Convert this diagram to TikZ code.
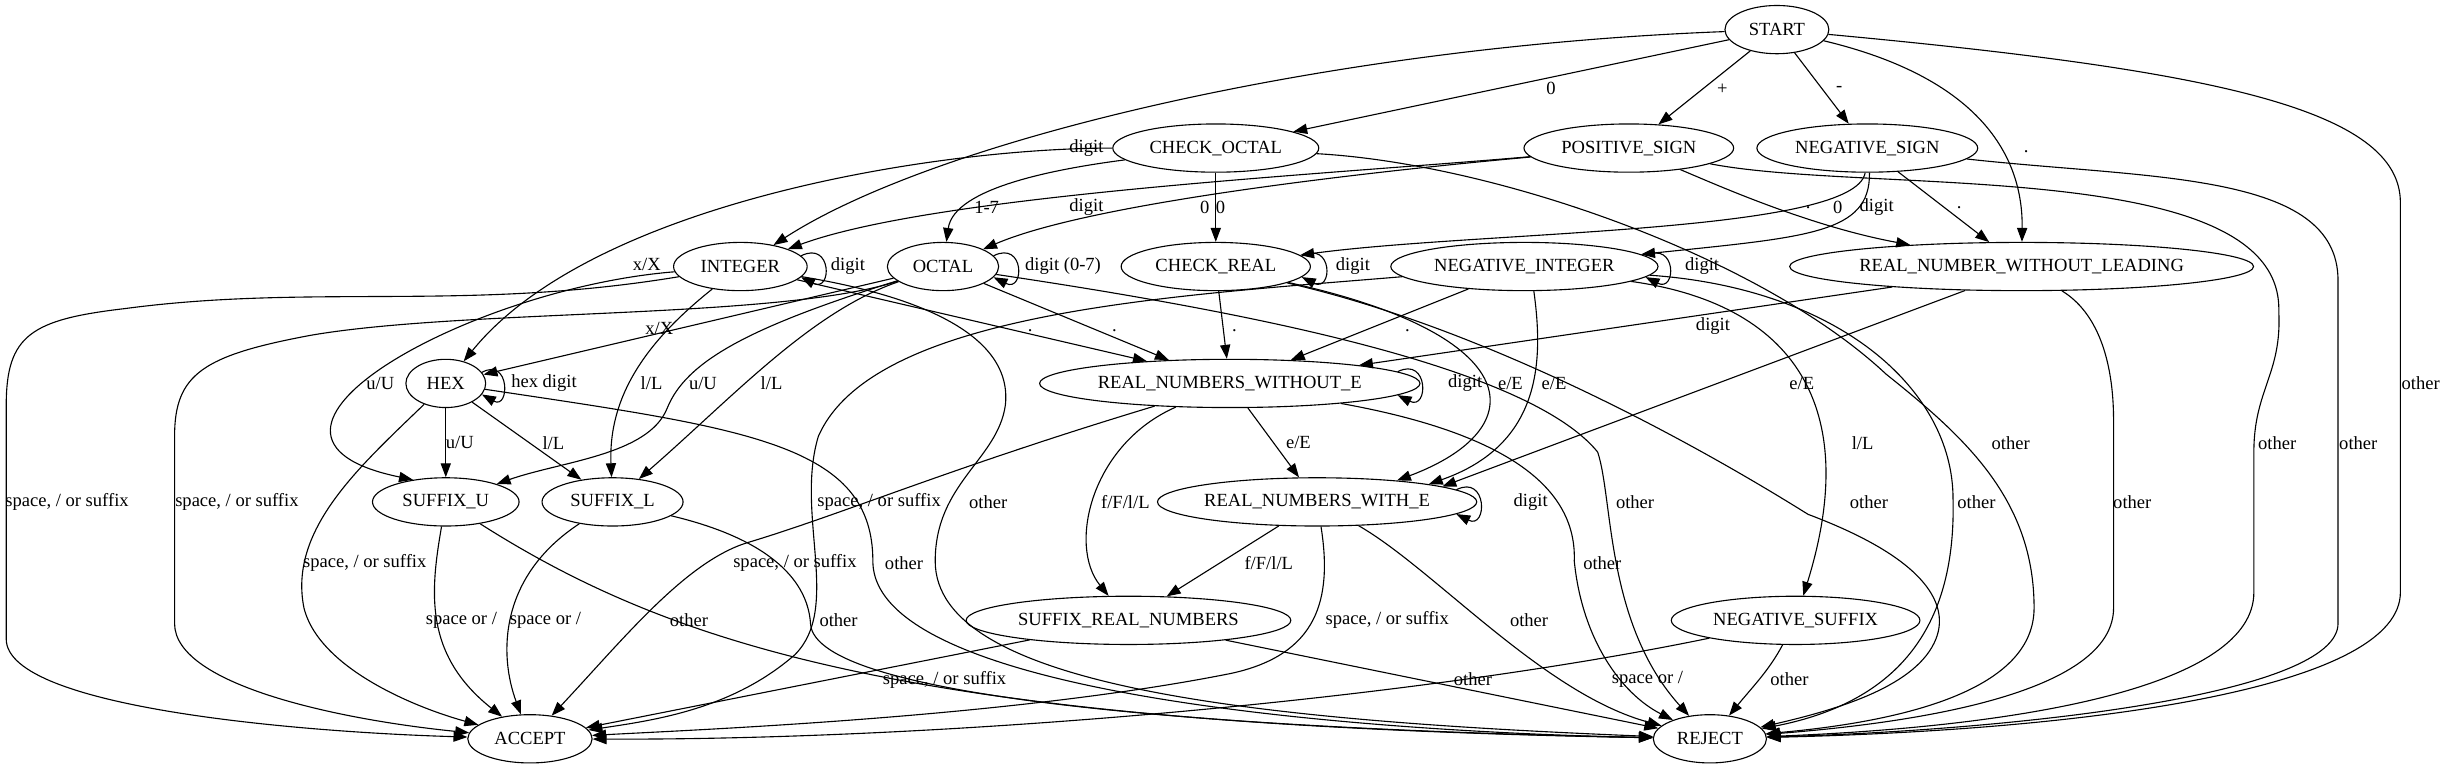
\documentclass[tikz,border=0pt]{standalone}
\usepackage{fontspec}
\setmainfont{Liberation Serif}
\usetikzlibrary{arrows.meta,shapes.geometric}

\begin{document}
\begin{tikzpicture}[x=0.84pt,y=-0.84pt]
  \tikzstyle{state}=[draw,ellipse,inner sep=0pt,minimum height=26pt,line width=0.6pt]
  \tikzstyle{edge}=[-{Triangle[length=7.5pt,width=5.5pt]},line width=0.6pt]
  \tikzstyle{lbl}=[inner sep=0pt]
  \useasboundingbox (0,0) rectangle (1568,492);
  % States, rank by rank
  \node[state,minimum width=56pt] (start) at (1140,19) {START};
  \node[state,minimum width=111pt] (chkoct) at (780,95) {CHECK\_OCTAL};
  \node[state,minimum width=113pt] (possign) at (1045,95) {POSITIVE\_SIGN};
  \node[state,minimum width=119pt] (negsign) at (1198,95) {NEGATIVE\_SIGN};
  \node[state,minimum width=72pt] (integer) at (475,171) {INTEGER};
  \node[state,minimum width=60pt] (octal) at (605,171) {OCTAL};
  \node[state,minimum width=102pt] (chkreal) at (780,171) {CHECK\_REAL};
  \node[state,minimum width=144pt] (negint) at (978,171) {NEGATIVE\_INTEGER};
  \node[state,minimum width=250pt] (rnwl) at (1297,171) {REAL\_NUMBER\_WITHOUT\_LEADING};
  \node[state,minimum width=43pt] (hex) at (286,246) {HEX};
  \node[state,minimum width=205pt] (rnwoe) at (789,246) {REAL\_NUMBERS\_WITHOUT\_E};
  \node[state,minimum width=79pt] (sufu) at (286,322) {SUFFIX\_U};
  \node[state,minimum width=76pt] (sufl) at (393,322) {SUFFIX\_L};
  \node[state,minimum width=171pt] (rnwe) at (845,322) {REAL\_NUMBERS\_WITH\_E};
  \node[state,minimum width=175pt] (sufreal) at (724,398) {SUFFIX\_REAL\_NUMBERS};
  \node[state,minimum width=134pt] (negsuf) at (1152,398) {NEGATIVE\_SUFFIX};
  \node[state,minimum width=67pt] (accept) at (340,474) {ACCEPT};
  \node[state,minimum width=61pt] (reject) at (1097,474) {REJECT};
  % START
  \draw[edge] (start) -- (chkoct) node[lbl,at={(995,57)}] {0};
  \draw[edge] (start) -- (possign) node[lbl,at={(1105,57)}] {+};
  \draw[edge] (start) -- (negsign) node[lbl,at={(1180,57)}] {-};
  \draw[edge] (start) .. controls (850,30) and (600,90) .. (integer) node[lbl,at={(697,95)}] {digit};
  \draw[edge] (start) .. controls (1270,50) and (1298,100) .. (rnwl) node[lbl,at={(1300,97)}] {.};
  \draw[edge] (start) .. controls (1420,45) and (1540,70) .. (1540,130) -- (1540,380)
    .. controls (1540,440) and (1350,468) .. (reject) node[lbl,at={(1553,246)}] {other};
  % CHECK_OCTAL
  \draw[edge] (chkoct) .. controls (600,95) and (380,130) .. (hex) node[lbl,at={(415,170)}] {x/X};
  \draw[edge] (chkoct) .. controls (680,108) and (612,120) .. (octal) node[lbl,at={(633,133)}] {1-7};
  \draw[edge] (chkoct) -- (chkreal) node[lbl,at={(783,133)}] {0};
  \draw[edge] (chkoct) .. controls (960,105) and (1130,165) .. (1210,240)
    .. controls (1260,280) and (1305,320) .. (1305,390)
    .. controls (1305,440) and (1230,462) .. (reject) node[lbl,at={(1290,284)}] {other};
  % POSITIVE_SIGN
  \draw[edge] (possign) .. controls (850,112) and (600,125) .. (integer) node[lbl,at={(697,133)}] {digit};
  \draw[edge] (possign) .. controls (880,110) and (700,130) .. (octal) node[lbl,at={(773,133)}] {0};
  \draw[edge] (possign) .. controls (1100,118) and (1160,145) .. (rnwl.169) node[lbl,at={(1160,133)}] {.};
  \draw[edge] (possign) .. controls (1200,125) and (1465,100) .. (1462,200)
    .. controls (1464,240) and (1446,250) .. (1446,290) -- (1446,380)
    .. controls (1446,440) and (1300,466) .. (reject) node[lbl,at={(1461,284)}] {other};
  % NEGATIVE_SIGN
  \draw[edge] (negsign.-95) .. controls (1190,150) and (950,148) .. (chkreal) node[lbl,at={(1179,133)}] {0};
  \draw[edge] (negsign.-85) .. controls (1200,150) and (1160,152) .. (negint) node[lbl,at={(1204,133)}] {digit};
  \draw[edge] (negsign) -- (rnwl.143) node[lbl,at={(1257,133)}] {.};
  \draw[edge] (negsign) .. controls (1380,115) and (1500,110) .. (1500,180) -- (1500,400)
    .. controls (1500,445) and (1300,468) .. (reject) node[lbl,at={(1513,284)}] {other};
  % INTEGER
  \draw[edge] (integer.10) .. controls +(20,-10) and +(20,10) .. (integer.-10) node[lbl,at={(544,171)}] {digit};
  \draw[edge] (integer) .. controls (300,185) and (130,280) .. (sufu.146) node[lbl,at={(244,246)}] {u/U};
  \draw[edge] (integer) .. controls (420,215) and (390,250) .. (sufl) node[lbl,at={(418,246)}] {l/L};
  \draw[edge] (integer) -- (rnwoe.165) node[lbl,at={(661,212)}] {.};
  \draw[edge] (integer) .. controls (300,200) and (200,182) .. (80,198)
    .. controls (20,205) and (4,215) .. (4,260) -- (4,410)
    .. controls (4,455) and (200,470) .. (accept) node[lbl,at={(43,322)}] {space, / or suffix};
  \draw[edge] (integer) .. controls (590,190) and (650,215) .. (645,260)
    .. controls (640,295) and (600,310) .. (600,360)
    .. controls (600,440) and (800,462) .. (reject) node[lbl,at={(634,322)}] {other};
  % OCTAL
  \draw[edge] (octal.12) .. controls +(20,-10) and +(20,10) .. (octal.-12) node[lbl,at={(682,171)}] {digit (0-7)};
  \draw[edge] (octal) -- (hex) node[lbl,at={(423,211)}] {x/X};
  \draw[edge] (octal) .. controls (480,210) and (440,232) .. (428,262)
    .. controls (416,292) and (360,296) .. (sufu) node[lbl,at={(451,246)}] {u/U};
  \draw[edge] (octal) .. controls (520,200) and (470,255) .. (sufl) node[lbl,at={(495,246)}] {l/L};
  \draw[edge] (octal) -- (rnwoe.159) node[lbl,at={(715,212)}] {.};
  \draw[edge] (octal) .. controls (500,205) and (300,198) .. (200,215)
    .. controls (130,228) and (112,240) .. (112,280) -- (112,400)
    .. controls (112,440) and (220,462) .. (accept) node[lbl,at={(152,322)}] {space, / or suffix};
  \draw[edge] (octal) .. controls (800,200) and (980,235) .. (1025,290)
    .. controls (1035,320) and (1030,400) .. (reject) node[lbl,at={(1049,322)}] {other};
  % CHECK_REAL
  \draw[edge] (chkreal.7) .. controls +(20,-10) and +(20,10) .. (chkreal.-7) node[lbl,at={(868,171)}] {digit};
  \draw[edge] (chkreal) -- (rnwoe) node[lbl,at={(792,212)}] {.};
  \draw[edge] (chkreal) .. controls (980,215) and (985,275) .. (rnwe.15) node[lbl,at={(969,246)}] {e/E};
  \draw[edge] (chkreal) .. controls (950,210) and (1080,280) .. (1160,330)
    .. controls (1240,360) and (1250,390) .. (1242,410)
    .. controls (1230,440) and (1180,455) .. (reject) node[lbl,at={(1199,322)}] {other};
  % NEGATIVE_INTEGER
  \draw[edge] (negint.5) .. controls +(20,-10) and +(20,10) .. (negint.-5) node[lbl,at={(1092,171)}] {digit};
  \draw[edge] (negint) -- (rnwoe.21) node[lbl,at={(903,212)}] {.};
  \draw[edge] (negint.-69) .. controls (990,230) and (990,285) .. (rnwe.9) node[lbl,at={(997,246)}] {e/E};
  \draw[edge] (negint) .. controls (1150,195) and (1195,260) .. (negsuf) node[lbl,at={(1195,284)}] {l/L};
  \draw[edge] (negint) .. controls (750,190) and (560,200) .. (525,280)
    .. controls (510,330) and (540,390) .. (510,420)
    .. controls (470,455) and (420,462) .. (accept) node[lbl,at={(564,322)}] {space, / or suffix};
  \draw[edge] (negint) .. controls (1180,185) and (1253,250) .. (1253,320)
    .. controls (1255,400) and (1220,450) .. (reject) node[lbl,at={(1268,322)}] {other};
  % REAL_NUMBER_WITHOUT_LEADING
  \draw[edge] (rnwl.189) -- (rnwoe.8) node[lbl,at={(1099,209)}] {digit};
  \draw[edge] (rnwl.203) -- (rnwe.7) node[lbl,at={(1156,246)}] {e/E};
  \draw[edge] (rnwl) .. controls (1345,200) and (1356,230) .. (1356,270) -- (1356,390)
    .. controls (1356,440) and (1250,462) .. (reject) node[lbl,at={(1368,322)}] {other};
  % HEX
  \draw[edge] (hex.17) .. controls +(18,-10) and +(18,10) .. (hex.-17) node[lbl,at={(349,246)}] {hex digit};
  \draw[edge] (hex) -- (sufu) node[lbl,at={(295,284)}] {u/U};
  \draw[edge] (hex) -- (sufl) node[lbl,at={(355,284)}] {l/L};
  \draw[edge] (hex) .. controls (230,300) and (185,340) .. (195,390)
    .. controls (205,430) and (270,455) .. (accept) node[lbl,at={(234,361)}] {space, / or suffix};
  \draw[edge] (hex) .. controls (480,275) and (560,285) .. (560,360)
    .. controls (560,450) and (900,470) .. (reject) node[lbl,at={(580,361)}] {other};
  % REAL_NUMBERS_WITHOUT_E
  \draw[edge] (rnwoe.4) .. controls +(20,-10) and +(20,10) .. (rnwoe.-4) node[lbl,at={(940,246)}] {digit};
  \draw[edge] (rnwoe) -- (rnwe) node[lbl,at={(833,284)}] {e/E};
  \draw[edge] (rnwoe) .. controls (700,285) and (685,350) .. (sufreal) node[lbl,at={(722,322)}] {f/F/l/L};
  \draw[edge] (rnwoe) .. controls (610,300) and (540,330) .. (480,348)
    .. controls (440,360) and (400,410) .. (accept) node[lbl,at={(510,361)}] {space, / or suffix};
  \draw[edge] (rnwoe) .. controls (950,275) and (1012,305) .. (1010,360)
    .. controls (1015,410) and (1040,445) .. (reject) node[lbl,at={(1028,361)}] {other};
  % SUFFIX_U and SUFFIX_L
  \draw[edge] (sufu) .. controls (276,380) and (272,420) .. (accept) node[lbl,at={(296,398)}] {space or /};
  \draw[edge] (sufu) .. controls (440,420) and (600,465) .. (reject) node[lbl,at={(442,398)}] {other};
  \draw[edge] (sufl) .. controls (320,370) and (320,420) .. (accept) node[lbl,at={(350,398)}] {space or /};
  \draw[edge] (sufl) .. controls (490,345) and (518,370) .. (520,400)
    .. controls (522,450) and (800,468) .. (reject) node[lbl,at={(538,398)}] {other};
  % REAL_NUMBERS_WITH_E
  \draw[edge] (rnwe.5) .. controls +(20,-10) and +(20,10) .. (rnwe.-5) node[lbl,at={(982,322)}] {digit};
  \draw[edge] (rnwe) -- (sufreal) node[lbl,at={(814,361)}] {f/F/l/L};
  \draw[edge] (rnwe) .. controls (855,385) and (845,420) .. (790,432)
    .. controls (650,460) and (450,468) .. (accept) node[lbl,at={(890,398)}] {space, / or suffix};
  \draw[edge] (rnwe) .. controls (920,365) and (990,445) .. (reject) node[lbl,at={(981,398)}] {other};
  % SUFFIX_REAL_NUMBERS and NEGATIVE_SUFFIX
  \draw[edge] (sufreal) -- (accept) node[lbl,at={(606,436)}] {space, / or suffix};
  \draw[edge] (sufreal) -- (reject) node[lbl,at={(945,436)}] {other};
  \draw[edge] (negsuf) .. controls (900,450) and (600,475) .. (accept) node[lbl,at={(1057,436)}] {space or /};
  \draw[edge] (negsuf) .. controls (1135,430) and (1125,440) .. (reject) node[lbl,at={(1148,436)}] {other};
\end{tikzpicture}
\end{document}
